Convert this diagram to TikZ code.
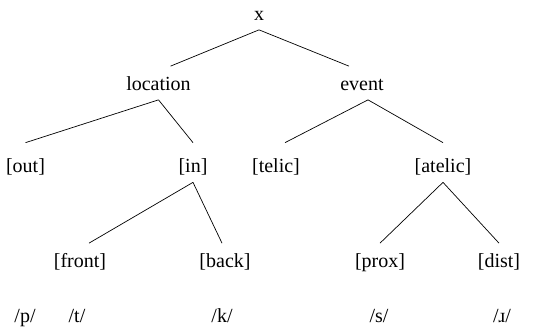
\documentclass[tikz,border=0pt]{standalone}
\usepackage{fontspec}
\setmainfont{Liberation Serif}

\begin{document}
\begin{tikzpicture}[x = 1pt, y = -1pt, line width = 0.7pt,
    every node/.style = {anchor = base, inner ysep = 5.5pt, text height = 18pt, text depth = 4pt, font = \fontsize{20}{24}\selectfont},
    tall/.style = {text height = 24pt}]
        \useasboundingbox (0, 0) rectangle (556, 327);

        \node (x) at (259, 20) {x};

        \node (location) at (158.5, 90) {location};
        \node (event) at (362, 90) {event};

        \node[tall] (out) at (25.5, 172.5) {[out]};
        \node[tall] (in) at (193, 172.5) {[in]};
        \node[tall] (telic) at (276, 172.5) {[telic]};
        \node[tall] (atelic) at (443, 172.5) {[atelic]};

        \node (front) at (80, 267) {[front]};
        \node (back) at (225, 267) {[back]};
        \node (prox) at (380, 267) {[prox]};
        \node (dist) at (499, 267) {[dist]};

        \node (p) at (25, 322) {/p/};
        \node (t) at (77, 322) {/t/};
        \node (k) at (222, 322) {/k/};
        \node (s) at (379, 322) {/s/};
        \node (r) at (502, 322) {/ɹ/};

        \draw (x.south) -- ([xshift = 12pt] location.north);
        \draw (x.south) -- ([xshift = -13pt] event.north);

        \draw (location.south) -- (out.north);
        \draw (location.south) -- (in.north);
        \draw ([xshift = 6pt] event.south) -- ([xshift = 9pt] telic.north);
        \draw ([xshift = 6pt] event.south) -- (atelic.north);

        \draw (in.south) -- ([xshift = 9pt] front.north);
        \draw (in.south) -- ([xshift = -3pt] back.north);
        \draw (atelic.south) -- (prox.north);
        \draw (atelic.south) -- (dist.north);
      \end{tikzpicture}
\end{document}
